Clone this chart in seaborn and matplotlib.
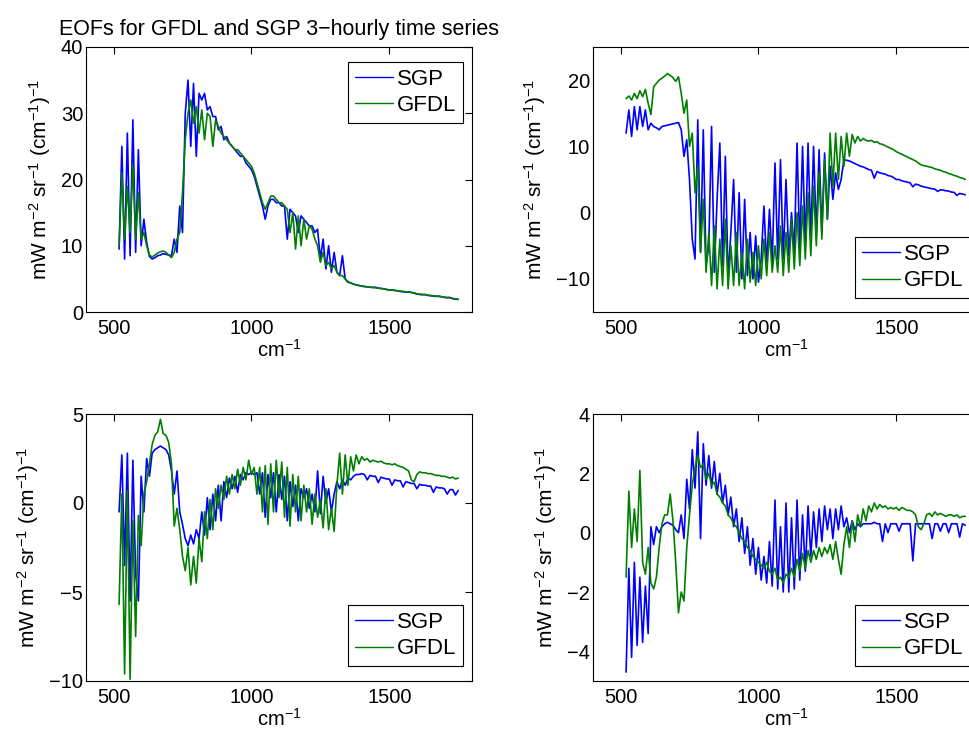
#!/usr/bin/env python3
"""
plot.py - EOFs for GFDL and SGP 3-hourly time series (four panels)
"""
import numpy as np
import pandas as pd
import matplotlib
matplotlib.use("Agg")
import matplotlib.pyplot as plt
import seaborn as sns

# wavenumber grid (cm^-1), one sample every 10 cm^-1
wn = np.arange(520, 1751, 10)

# EOF 1
sgp1 = [9.5, 25, 8, 27, 8.5, 29, 9, 24.5, 10, 14,
        10.5, 8.4, 8.0, 8.2, 8.5, 8.6, 8.8, 8.7, 8.6, 8.5,
        11, 9, 16, 12, 30, 35, 25, 34.5, 23.5, 33,
        32, 33, 30.5, 31, 29.5, 29.5, 27.5, 28, 26, 26.5,
        25.5, 25, 24.5, 24, 23.5, 23.5, 22.5, 22, 21.5, 20.5,
        19, 17.5, 16, 14, 16, 17, 17, 16.5, 16.5, 16,
        16, 11, 15.5, 15, 14.5, 12, 14.5, 14, 13.5, 13,
        13, 12, 12.5, 8, 11, 6.5, 10, 6, 9, 6,
        5.5, 8.5, 5, 4.5, 4.4, 4.2, 4.1, 4.0,
        3.9, 3.85, 3.8, 3.75, 3.7, 3.75, 3.6, 3.55, 3.5, 3.4,
        3.3, 3.35, 3.25, 3.2, 3.1, 3.05, 3.0, 3.05, 2.95, 2.85,
        2.7, 2.65, 2.6, 2.65, 2.5, 2.45, 2.4, 2.35, 2.4, 2.3,
        2.2, 2.15, 2.2, 2.0, 1.95, 1.9]
gfdl1 = [10, 21, 11, 19, 12, 22, 11, 18, 11, 12,
         10, 8.6, 8.3, 8.6, 8.9, 9.1, 9.2, 9.0, 8.6, 8.2,
         9, 11, 12, 18, 26, 30, 32, 28.5, 31, 27,
         30.5, 26, 30, 29.5, 25, 29, 28, 27, 26.5, 26,
         25.5, 25, 24.5, 24.5, 24, 23.5, 23, 22.5, 22, 21,
         19.5, 18, 16.5, 15.5, 16.5, 17.5, 17.5, 17, 16.5, 16.5,
         16, 15.5, 12, 15, 9.5, 14.5, 10, 14, 11, 13,
         12.5, 11, 10, 7.5, 9, 7, 7.5, 6.5, 7, 6,
         5.5, 5.5, 5, 4.6, 4.4, 4.2, 4.1, 4.0,
         3.9, 3.85, 3.8, 3.75, 3.7, 3.65, 3.6, 3.55, 3.5, 3.4,
         3.35, 3.3, 3.25, 3.2, 3.15, 3.1, 3.05, 3.0, 2.95, 2.9,
         2.75, 2.7, 2.65, 2.6, 2.55, 2.5, 2.45, 2.4, 2.35, 2.3,
         2.25, 2.2, 2.15, 2.05, 2.0, 1.9]

# EOF 2
sgp2 = [12, 15.5, 11.5, 16, 12.5, 16, 13, 15.5, 12.5, 13.5,
        13, 12.8, 12.5, 13, 13.1, 13.2, 13.3, 13.4, 13.5, 13.6,
        12.5, 8.5, 11, 5, -4, -7, 14, -6, 12.5, -8,
        -5, 13, -9, 2, 10.5, -8, 8.5, -10, -3, 5,
        -9, 3, -10, 2, -9.5, -3, -10, -3.5, -10.5, -7,
        1, -8, 0.5, -7.5, 7.5, -7, 8, -7, 5, -6.5,
        0, -6, 10.5, -5.5, 10, -5, 10.5, -4, 10, -3.5,
        9.5, -3, 9, -1, 7, 2, 6, 3.5, 5, 8,
        7.9, 7.8, 7.6, 7.4, 7.2, 7.0, 6.9, 6.7,
        6.5, 6.4, 5.2, 6.2, 6.0, 5.9, 5.8, 5.6, 5.5, 5.3,
        5.0, 5.0, 4.8, 4.7, 4.6, 4.5, 3.9, 4.3, 4.2, 4.0,
        3.9, 3.8, 3.7, 3.6, 3.55, 3.2, 3.45, 3.4, 3.3, 3.25,
        3.1, 3.05, 2.6, 2.9, 2.8, 2.7]
gfdl2 = [17.2, 17.6, 17.0, 18.0, 17.2, 18.4, 17.5, 18.6, 16.5, 14.8,
         19, 19.5, 20, 20.3, 20.6, 21, 20.7, 20.4, 19.8, 20.5,
         18, 15, 17, 10, 12, 3, 7, -6, 2, -9,
         -3, -11, -2, -11.5, -4, -11, -1, -11.5, -5, -11,
         -3, -11, -6, -11.5, -4, -10.5, -6, -11, -5, -10,
         -4, -9.5, -3, -9, -5, -9, -2, -9.5, -3, -9,
         -1, -8.5, 0, -8, 1, -7, 3, -6.5, 4, -5,
         6, -4, 8, -1, 12, 4, 12, 5, 11.5, 7,
         12, 8.5, 11.8, 10.5, 11.5, 10.8, 11.2, 10.9,
         10.8, 10.9, 10.6, 10.7, 10.4, 10.3, 10.1, 9.9, 9.7, 9.5,
         9.2, 9.0, 8.8, 8.6, 8.4, 8.2, 8.0, 7.8, 7.5, 7.2,
         7.1, 7.0, 6.9, 6.8, 6.6, 6.5, 6.4, 6.2, 6.1, 5.9,
         5.8, 5.6, 5.5, 5.3, 5.2, 5.0]

# EOF 3
sgp3 = [-0.5, 2.7, -3.5, 2.8, -5.5, 2.4, -4, -5.5, 1.5, -0.5,
        2.5, 1.5, 2.8, 3.0, 3.1, 3.2, 3.1, 3.0, 2.7, 1.8,
        0.5, 1.8, -0.5, -1.2, -2.0, -2.4, -1.8, -2.3, -1.5, -2.0,
        -0.5, -1.8, 0.3, -1.5, 0.5, -1.0, 1.0, -1.0, 1.2, 0.3,
        1.4, 0.8, 1.5, 0.6, 1.6, 1.3, 1.7, 1.6, 1.7, 1.6,
        1.7, 0.5, 1.7, -0.8, 1.6, 0.3, 1.7, -0.5, 1.6, 0.2,
        1.5, -1.0, 1.2, -0.2, 1.0, -1.0, 0.8, 0.3, 0.8, -0.3,
        0.5, -0.5, 1.8, -0.6, 1.5, 0.0, 0.8, -0.5, 0.5, 1.2,
        0.8, 1.3, 1.0, 1.4, 1.3, 1.5, 1.6, 1.6,
        1.65, 1.6, 1.3, 1.55, 1.5, 1.5, 1.15, 1.45, 1.4, 1.35,
        1.35, 1.0, 1.3, 1.25, 1.25, 0.9, 1.2, 1.15, 1.1, 1.1,
        0.8, 1.05, 1.0, 1.0, 0.95, 0.95, 0.6, 0.9, 0.85, 0.85,
        0.8, 0.5, 0.75, 0.75, 0.45, 0.7]
gfdl3 = [-5.7, 0.5, -9.6, 0.7, -9.9, -1.0, -7.5, -0.7, -2.4, 0.5,
         1.2, 2.2, 3.3, 3.8, 4.0, 4.7, 3.9, 3.8, 3.4, 2.2,
         -1.3, -0.3, -1.5, -3.0, -3.8, -2.5, -4.6, -3.0, -4.5, -2.0,
         -3.3, -0.5, -2.0, 0.2, -1.5, 0.8, -0.3, 1.0, 0.2, 1.5,
         0.5, 1.6, 0.8, 1.9, 1.0, 2.0, 1.3, 2.4, 1.6, 2.0,
         0.5, 2.0, -0.5, 2.1, -1.2, 2.2, -0.5, 2.4, 0.3, 2.3,
         -0.8, 2.0, -1.3, 1.6, -0.5, 1.5, -1.0, 1.0, -0.5, 0.8,
         -1.2, 0.5, -0.8, 0.2, -1.4, 0.8, -1.5, -0.3, -1.6, 1.0,
         2.8, 0.5, 2.7, 1.0, 2.6, 1.8, 2.7, 2.2,
         2.6, 2.4, 2.5, 2.3, 2.4, 2.35, 2.3, 2.35, 2.25, 2.2,
         2.2, 2.15, 2.2, 2.1, 2.05, 2.0, 1.9, 1.8, 1.3, 1.2,
         1.6, 1.75, 1.7, 1.7, 1.65, 1.65, 1.6, 1.55, 1.55, 1.5,
         1.5, 1.45, 1.4, 1.45, 1.35, 1.4]

# EOF 4
sgp4 = [-4.7, -1.2, -4.2, -1.0, -3.8, -1.5, -3.7, -1.8, -3.4, 0.2,
        -0.4, 0.2, 0.0, 0.2, 0.3, 0.35, 0.3, 0.25, 0.1, 0.0,
        0.6, -0.2, 1.8, 0.8, 2.8, 1.5, 3.4, -0.2, 3.0, 1.6,
        2.6, 1.5, 2.4, 1.3, 2.0, 1.0, 1.6, 0.6, 1.2, 0.2,
        0.8, -0.3, 0.5, -0.7, 0.2, -1.1, -0.2, -1.4, -0.5, -1.6,
        -0.8, -1.7, -0.3, -1.8, 1.1, -1.9, 0.2, -2.0, 1.0, -2.0,
        0.5, -1.9, 1.1, -1.6, 0.6, -1.3, 0.9, -0.8, 0.7, -0.5,
        0.8, -0.3, 0.9, 0.1, 0.8, -0.2, 0.8, 0.1, 0.9, 0.2,
        0.5, 0.0, 0.4, 0.1, 0.3, 0.2, 0.3, 0.3,
        0.3, 0.3, 0.35, 0.3, 0.3, -0.3, 0.3, 0.0, 0.3, 0.3,
        0.3, 0.05, 0.3, 0.3, 0.3, 0.3, -0.95, 0.3, 0.3, 0.3,
        0.3, 0.3, 0.3, -0.2, 0.3, 0.3, 0.05, 0.3, 0.3, 0.0,
        0.3, 0.3, 0.3, -0.15, 0.3, 0.25]
gfdl4 = [-1.5, 1.4, -0.5, 0.8, -0.3, 2.1, -1.0, -1.4, -0.5, -1.7,
         -1.9, -1.5, -0.5, 0.3, 0.6, 0.6, 1.3, 0.4, -1.0, -2.7,
         -2.0, -2.3, -0.5, 0.6, 1.6, 2.2, 2.6, 2.2, 2.3, 1.8,
         2.0, 1.6, 1.7, 1.3, 1.2, 1.0, 0.9, 0.6, 0.5, 0.3,
         0.2, 0.0, -0.2, -0.3, -0.5, -0.6, -0.8, -0.9, -1.0, -1.1,
         -1.2, -1.0, -1.3, -1.4, -1.2, -1.6, -1.5, -1.7, -1.4, -1.5,
         -1.2, -1.5, -0.9, -1.3, -0.7, -1.2, -0.6, -1.0, -0.6, -0.9,
         -0.5, -0.8, -0.5, -0.7, -0.4, -0.9, -0.3, -0.9, -1.4, -0.4,
         0.2, -0.5, 0.4, -0.3, 0.6, 0.2, 0.8, 0.4,
         0.9, 0.7, 1.0, 0.8, 0.95, 0.85, 0.9, 0.8, 0.85, 0.8,
         0.85, 0.75, 0.85, 0.8, 0.75, 0.75, 0.7, 0.6, 0.2, 0.1,
         0.3, 0.6, 0.65, 0.55, 0.7, 0.6, 0.65, 0.6, 0.55, 0.6,
         0.6, 0.55, 0.6, 0.5, 0.55, 0.55]

title = "EOFs for GFDL and SGP 3\u2212hourly time series"
ylabel = "mW m$^{-2}$ sr$^{-1}$ (cm$^{-1}$)$^{-1}$"
xlabel = "cm$^{-1}$"
palette = {"SGP": "#0000ff", "GFDL": "#007f00"}


def panel(ax, sgp, gfdl, ylim, yticks, legend_loc, anchor):
    assert len(sgp) == len(wn) and len(gfdl) == len(wn)
    df = pd.DataFrame({
        "wn": np.concatenate([wn, wn]),
        "val": list(sgp) + list(gfdl),
        "series": ["SGP"] * len(wn) + ["GFDL"] * len(wn),
    })
    sns.lineplot(data=df, x="wn", y="val", hue="series", hue_order=["SGP", "GFDL"],
                 palette=palette, estimator=None, lw=1.2, legend=False, ax=ax)
    ax.set_xlim(400, 1800)
    ax.set_ylim(*ylim)
    ax.set_xticks([500, 1000, 1500])
    ax.set_yticks(yticks)
    ax.set_ylabel(ylabel, fontsize=15, labelpad=6)
    ax.set_xlabel(xlabel, fontsize=14.5, labelpad=1)
    ax.tick_params(direction="in", length=5, width=0.8, top=True, right=True,
                   labelsize=14.5, colors="black")
    ax.tick_params(axis="x", pad=5)
    ax.tick_params(axis="y", pad=2)
    for s in ax.spines.values():
        s.set_color("black")
        s.set_linewidth(0.8)
    lines = ax.get_lines()
    leg = ax.legend(lines[:2], ["SGP", "GFDL"], loc=legend_loc, bbox_to_anchor=anchor,
                    borderaxespad=0, fontsize=16, handlelength=1.7, handletextpad=0.2,
                    fancybox=False, framealpha=1, edgecolor="black", borderpad=0.3,
                    labelspacing=0.25)
    leg.get_frame().set_linewidth(0.8)
    for h in leg.get_lines():
        h.set_linewidth(1.0)


sns.set_theme(style="white")
plt.rcParams["font.family"] = ["Liberation Sans", "DejaVu Sans"]
plt.rcParams["text.color"] = "black"
plt.rcParams["axes.labelcolor"] = "black"
plt.rcParams["mathtext.fontset"] = "custom"
plt.rcParams["mathtext.rm"] = "Liberation Sans"
plt.rcParams["mathtext.it"] = "Liberation Sans:italic"
plt.rcParams["mathtext.bf"] = "Liberation Sans:bold"

fig = plt.figure(figsize=(9.69, 7.33), dpi=100)
W, H = 969, 733
aw, ah_top, ah_bot = 386 / W, 265 / H, 267 / H
ax1 = fig.add_axes([86 / W, 1 - 312 / H, aw, ah_top])
ax2 = fig.add_axes([593 / W, 1 - 312 / H, aw, ah_top])
ax3 = fig.add_axes([86 / W, 1 - 681 / H, aw, ah_bot])
ax4 = fig.add_axes([593 / W, 1 - 681 / H, aw, ah_bot])

panel(ax1, sgp1, gfdl1, (0, 40), [0, 10, 20, 30, 40], "upper right", (0.9767, 0.9434))
panel(ax2, sgp2, gfdl2, (-15, 25), [-10, 0, 10, 20], "lower right", (0.9767, 0.053))
panel(ax3, sgp3, gfdl3, (-10, 5), [-10, -5, 0, 5], "lower right", (0.9767, 0.056))
panel(ax4, sgp4, gfdl4, (-5, 4), [-4, -2, 0, 2, 4], "lower right", (0.9767, 0.056))

ax1.set_title(title, fontsize=15.5, pad=9, color="black")

fig.savefig("out.png", dpi=100, facecolor="white")
print("Wrote: out.png")
